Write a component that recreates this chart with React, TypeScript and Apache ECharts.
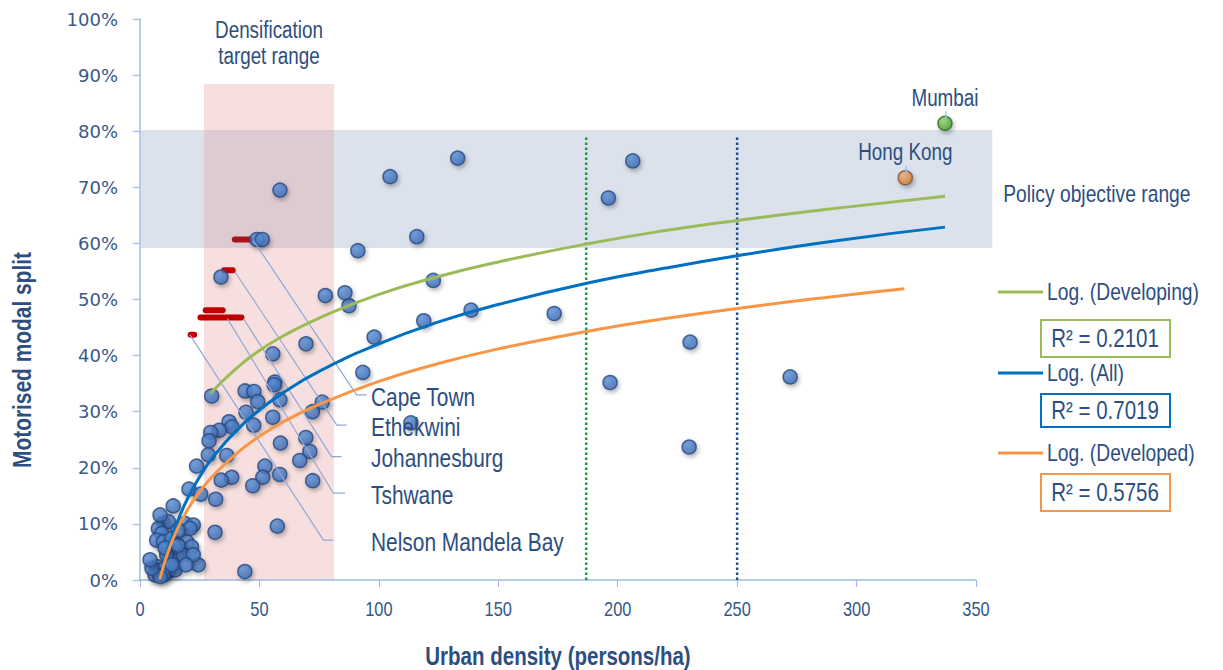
import React, { useEffect, useRef } from "react";
import * as echarts from "echarts";

const SANS = '"Liberation Sans", Arial, sans-serif';
const NARROW_SCALE = 0.82;
const TEXT = "#2d4e7f";
const AXIS = "#9dbbe3";

// Urban density (persons/ha) and motorised modal split (%) per city
const cityDensity = [
  13.9, 9.8, 11.9, 18.8, 22.3, 20.9, 7.7, 9.1, 7.0, 9.8, 13.3, 16.8, 19.6, 21.6, 24.4, 12.6, 15.4, 11.2, 18.1, 22.3,
  7.0, 9.1, 11.9, 14.7, 9.8, 6.3, 8.4, 5.0, 10.5, 15.9, 4.2, 13.4, 19.3, 8.4, 15.9,
  20.5, 25.4, 31.7, 23.7, 31.4, 43.9, 57.5,
  30.0, 44.0, 47.7, 49.3, 56.5, 56.2, 58.6, 44.4, 47.6, 55.6, 72.2, 76.3, 37.3, 38.5, 33.2, 29.6, 28.9, 58.8, 69.4, 71.1,
  28.6, 36.3, 66.9, 52.3, 51.4, 58.5, 38.4, 34.0, 72.3, 47.2,
  55.6, 69.5, 93.3, 98.0, 118.8, 138.6, 87.5, 77.6, 85.8, 122.8, 33.9, 91.2, 115.9, 48.9, 51.2, 58.6, 104.7, 133.0,
  206.3, 196.1, 173.4, 230.3, 196.8, 272.2, 229.9, 113.4,
];
const cityModalSplit = [
  13.2, 10.1, 10.4, 10.1, 9.8, 9.2, 9.2, 8.3, 7.1, 6.8, 7.4, 5.3, 6.8, 5.9, 2.7, 3.6, 3.9, 4.5, 4.5, 4.5,
  2.4, 1.8, 1.5, 1.8, 0.9, 0.9, 0.6, 2.1, 5.7, 6.2, 3.6, 2.7, 2.7, 11.6, 8.9,
  16.2, 15.3, 14.4, 20.3, 8.5, 1.5, 9.6,
  32.8, 33.7, 33.6, 31.8, 35.3, 34.8, 32.1, 29.9, 27.6, 29.0, 30.0, 31.7, 28.2, 27.3, 26.7, 26.3, 24.8, 24.4, 25.4, 22.9,
  22.3, 22.2, 21.3, 20.3, 18.3, 18.8, 18.3, 17.8, 17.7, 16.8,
  40.3, 42.1, 37.0, 43.3, 46.2, 48.1, 48.9, 50.7, 51.2, 53.4, 54.0, 58.7, 61.2, 60.7, 60.7, 69.5, 71.9, 75.2,
  74.7, 68.1, 47.5, 42.4, 35.2, 36.2, 23.7, 28.0,
];
const mumbai = [337.0, 81.4];
const hongKong = [320.4, 71.7];

// Logarithmic trend lines
const developingX = [29.5, 40, 50, 60, 75, 100, 125, 150, 187, 220, 250, 290, 337];
const developingY = [33.3, 37.6, 40.9, 43.5, 46.7, 50.9, 54.1, 56.7, 59.9, 62.3, 64.1, 66.2, 68.4];
const allX = [8.5, 10, 12, 15, 20, 25, 30, 40, 50, 60, 75, 100, 125, 150, 187, 220, 250, 290, 337];
const allY = [0.0, 2.8, 5.9, 9.7, 14.6, 18.4, 21.6, 26.5, 30.3, 33.4, 37.2, 42.1, 46.0, 49.1, 52.9, 55.6, 57.8, 60.4, 62.9];
const developedX = [8.3, 10, 12, 15, 20, 25, 30, 40, 50, 60, 75, 100, 125, 150, 187, 220, 250, 290, 320];
const developedY = [0.1, 2.7, 5.3, 8.5, 12.6, 15.7, 18.3, 22.4, 25.6, 28.2, 31.3, 35.4, 38.6, 41.2, 44.3, 46.6, 48.4, 50.5, 51.9];
const trendNames = ["Log. (Developing)", "Log. (All)", "Log. (Developed)"];
const trendR2 = ["R² = 0.2101", "R² = 0.7019", "R² = 0.5756"];

// South African cities (density range markers and leader lines)
const saCities = ["Cape Town", "Ethekwini", "Johannesburg", "Tshwane", "Nelson Mandela Bay"];
const saDashFrom = [39.7, 35.2, 27.5, 25.3, 21.2];
const saDashTo = [46.2, 38.8, 34.6, 42.5, 22.7];
const saDashY = [60.7, 55.2, 48.1, 46.8, 43.7];
const leaderStartX = [47.5, 39.8, 43.3, 36.6, 20.9];
const leaderStartY = [60.5, 54.9, 46.6, 46.6, 43.7];
const leaderElbowX = [90.7, 82.4, 80.2, 80.9, 76.8];
const leaderElbowY = [33.0, 27.6, 22.0, 15.5, 7.1];
const leaderEndX = [94.9, 86.5, 84.4, 85.8, 80.9];

// Axis ticks
const xTickValues = [0, 50, 100, 150, 200, 250, 300, 350];

// Reference ranges
const densifyRange = [26.8, 81.2];
const densifyTop = 88.4;
const policyRange = [59.2, 80.2];
const policyRight = 356.8;
const guideDensities = [186.8, 250];
const guideTop = 79.1;

const TREND_COLORS = ["#9bbb59", "#0070c0", "#f79646"];

const narrowText = (text: string, x: number, y: number, size: number, extra: any = {}) => ({
  type: "text",
  z: 10,
  x,
  y,
  scaleX: NARROW_SCALE,
  rotation: extra.rotation || 0,
  style: {
    text,
    fontSize: size,
    fontFamily: SANS,
    fontWeight: extra.bold ? "bold" : "normal",
    fill: extra.fill || TEXT,
    align: extra.align || "left",
    verticalAlign: "middle",
  },
});

export default function App() {
  const ref = useRef<HTMLDivElement>(null);
  useEffect(() => {
    if (!ref.current) return;
    const chart = echarts.init(ref.current, undefined, { renderer: "svg" });

    const shadow = {
      shadowBlur: 4,
      shadowOffsetX: 1.5,
      shadowOffsetY: 2.5,
      shadowColor: "rgba(0,0,0,0.35)",
    };
    const dotStyle = {
      color: new echarts.graphic.RadialGradient(0.38, 0.35, 0.75, [
        { offset: 0, color: "#5b91d8" },
        { offset: 1, color: "#3966b0" },
      ]),
      borderColor: "#27477e",
      borderWidth: 1.5,
      ...shadow,
    };

    const series: any[] = [];
    series.push({
      type: "scatter",
      data: cityDensity.map((x, i) => [x, cityModalSplit[i]]),
      symbolSize: 14,
      itemStyle: dotStyle,
      z: 2,
    });
    saCities.forEach((c, i) => {
      series.push({
        type: "line",
        data: [
          [saDashFrom[i], saDashY[i]],
          [saDashTo[i], saDashY[i]],
        ],
        symbol: "none",
        lineStyle: { color: i === 0 ? "#a8141c" : "#c00000", width: 6, cap: "round" },
        z: 1,
      });
      series.push({
        type: "line",
        data: [
          [leaderStartX[i], leaderStartY[i]],
          [leaderElbowX[i], leaderElbowY[i]],
          [leaderEndX[i], leaderElbowY[i]],
        ],
        symbol: "none",
        lineStyle: { color: "#8ea9d8", width: 1.2 },
        z: 3,
      });
    });
    guideDensities.forEach((g, i) => {
      series.push({
        type: "line",
        data: [
          [g, 0],
          [g, guideTop],
        ],
        symbol: "none",
        lineStyle: { color: i === 0 ? "#17a03a" : "#1f4f8f", width: 2.5, type: "dotted" },
        z: 3,
      });
    });
    [
      [developingX, developingY],
      [allX, allY],
      [developedX, developedY],
    ].forEach(([xs, ys], i) => {
      series.push({
        type: "line",
        data: xs.map((x, j) => [x, ys[j]]),
        smooth: true,
        symbol: "none",
        lineStyle: { color: TREND_COLORS[i], width: 3 },
        z: 4,
      });
    });
    const namedPoint = (pt: number[], c0: string, c1: string, border: string) => ({
      type: "scatter",
      data: [pt],
      symbolSize: 14,
      itemStyle: {
        ...shadow,
        borderWidth: 1.5,
        color: new echarts.graphic.RadialGradient(0.38, 0.35, 0.75, [
          { offset: 0, color: c0 },
          { offset: 1, color: c1 },
        ]),
        borderColor: border,
      },
      z: 5,
    });
    series.push(namedPoint(mumbai, "#8fd66a", "#3d8f2a", "#2f6a22"));
    series.push(namedPoint(hongKong, "#f4b070", "#cd7530", "#7a5236"));

    chart.setOption({
      animation: false,
      grid: { left: 140, right: 247, top: 19, bottom: 90, containLabel: false },
      xAxis: {
        type: "value",
        min: 0,
        max: 350,
        interval: 50,
        axisLine: { show: true, lineStyle: { color: AXIS, width: 1.5 } },
        axisTick: { show: true, length: 7, lineStyle: { color: AXIS, width: 1.2 } },
        splitLine: { show: false },
        axisLabel: { show: false },
      },
      yAxis: {
        type: "value",
        min: 0,
        max: 100,
        interval: 10,
        axisLine: { show: true, lineStyle: { color: AXIS, width: 1.5 } },
        axisTick: { show: true, length: 7, lineStyle: { color: AXIS, width: 1.2 } },
        splitLine: { show: false },
        axisLabel: { formatter: "{value}%", margin: 22, fontSize: 18, color: "#3a5a8a", fontFamily: "DejaVu Sans" },
      },
      series,
    });

    const p = (x: number, y: number) => chart.convertToPixel({ gridIndex: 0 }, [x, y]) as number[];
    const pa = p(densifyRange[0], densifyTop);
    const pb = p(densifyRange[1], 0);
    const qa = p(0, policyRange[1]);
    const qb = p(policyRight, policyRange[0]);
    const origin = p(0, 0);
    const xEnd = p(350, 0);

    const graphic: any[] = [
      {
        type: "rect",
        z: 0,
        silent: true,
        shape: { x: qa[0] + 1, y: qa[1], width: qb[0] - qa[0] - 1, height: qb[1] - qa[1] },
        style: { fill: "#dbe2ec" },
      },
      {
        type: "rect",
        z: 0,
        silent: true,
        shape: { x: pa[0], y: pa[1], width: pb[0] - pa[0], height: pb[1] - pa[1] },
        style: { fill: "rgba(228,150,150,0.3)" },
      },
      narrowText("Densification", (pa[0] + pb[0]) / 2, 30, 23, { align: "center" }),
      narrowText("target range", (pa[0] + pb[0]) / 2, 56, 23, { align: "center" }),
      narrowText("Policy objective range", qb[0] + 11, 194, 23.5),
      narrowText("Motorised modal split", 22, 360, 25.5, { bold: true, align: "center", rotation: Math.PI / 2 }),
      narrowText("Urban density (persons/ha)", (origin[0] + xEnd[0]) / 2, origin[1] + 76, 25, { bold: true, align: "center" }),
    ];
    xTickValues.forEach((v) => {
      const t = p(v, 0);
      graphic.push(narrowText(String(v), t[0], t[1] + 29, 20, { align: "center", fill: "#33578a" }));
    });
    // Named cities
    const mp = p(mumbai[0], mumbai[1]);
    const hp = p(hongKong[0], hongKong[1]);
    [
      [mp, "Mumbai"],
      [hp, "Hong Kong"],
    ].forEach(([pt, name]: any) => {
      graphic.push({
        type: "line",
        z: 10,
        shape: { x1: pt[0] + 1, y1: pt[1] - 12, x2: pt[0] + 1, y2: pt[1] - 4 },
        style: { stroke: "#9fc4ea", lineWidth: 1.5 },
      });
      graphic.push(narrowText(name, pt[0], pt[1] - 26, 23, { align: "center" }));
    });
    saCities.forEach((c, i) => {
      const e = p(leaderEndX[i], leaderElbowY[i]);
      graphic.push(narrowText(c, 371, e[1] + 2, 25.5));
    });
    const legendY = [292, 373, 453];
    const boxY = [320, 394, 474];
    const boxH = [37, 33, 37];
    trendNames.forEach((n, i) => {
      graphic.push({
        type: "line",
        z: 10,
        shape: { x1: 998, y1: legendY[i], x2: 1043, y2: legendY[i] },
        style: { stroke: TREND_COLORS[i], lineWidth: 3 },
      });
      graphic.push(narrowText(n, 1047, legendY[i], 23.5));
      graphic.push({
        type: "rect",
        z: 10,
        shape: { x: 1041, y: boxY[i], width: 129, height: boxH[i] },
        style: { fill: "#ffffff", stroke: TREND_COLORS[i], lineWidth: 2 },
      });
      const t = narrowText(trendR2[i], 1105, boxY[i] + boxH[i] / 2, 25, { align: "center" });
      t.z = 11;
      graphic.push(t);
    });
    chart.setOption({ graphic });

    return () => chart.dispose();
  }, []);
  return <div ref={ref} style={{ position: "absolute", left: 0, top: 0, width: 1223, height: 670 }} />;
}
